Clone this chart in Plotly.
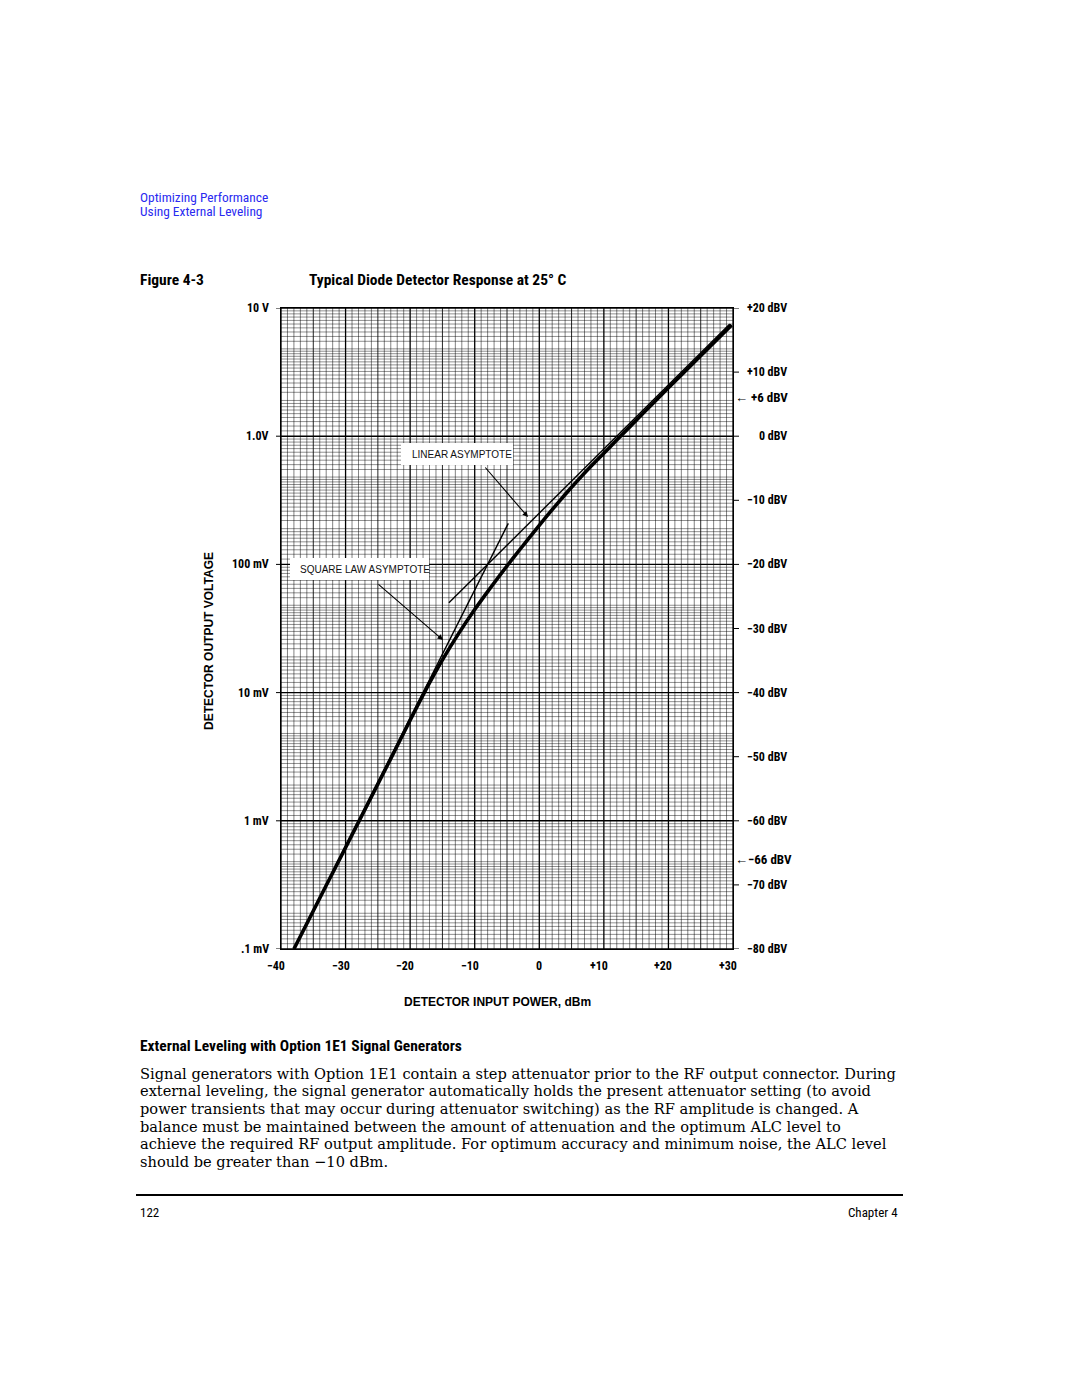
import numpy as np
import plotly.graph_objects as go

W, H = 1080, 1397
L, R, T, B = 281, 733, 308, 949   # plot area in page pixels

# ---------------- data ----------------
# main detector response curve: input power (dBm) -> output (dBV)
main_p   = [-38, -33, -28, -23, -20, -17.7, -15, -12.5, -10, -8, -6, -4, -2, 0, 2, 4, 6, 8, 10, 12, 16, 20, 25, 29.8]
main_dbv = [-80, -70.1, -60.2, -50.3, -44.3, -39.8, -34.9, -30.8, -27.05, -24.25, -21.55, -18.95, -16.4, -13.9,
            -11.45, -9.1, -6.85, -4.7, -2.65, -0.6, 3.5, 7.55, 12.55, 17.35]
# square-law asymptote
sq_p   = [-38, -4.8]
sq_dbv = [-80, -13.6]
# linear asymptote
lin_p   = [-14, 29.5]
lin_dbv = [-26, 17.5]

# axis labels
x_ticks  = [-40, -30, -20, -10, 0, 10, 20, 30]
x_labels = ["\u221240", "\u221230", "\u221220", "\u221210", "0", "+10", "+20", "+30"]
v_ticks  = [20, 0, -20, -40, -60, -80]
v_labels = ["10 V", "1.0V", "100 mV", "10 mV", "1 mV", ".1 mV"]
dbv_ticks  = [20, 10, 0, -10, -20, -30, -40, -50, -60, -70, -80]
dbv_labels = ["+20 dBV", "+10 dBV", "0 dBV", "\u221210 dBV", "\u221220 dBV", "\u221230 dBV",
              "\u221240 dBV", "\u221250 dBV", "\u221260 dBV", "\u221270 dBV", "\u221280 dBV"]
marker_dbv    = [6, -66]
marker_labels = ["\u2190 +6 dBV", "\u2190\u221266 dBV"]

# ---------------- helpers ----------------
def px(xp):  # page x pixel -> paper
    return (xp - L) / (R - L)
def py(yp):  # page y pixel -> paper
    return (B - yp) / (B - T)

COND = "Liberation Sans Narrow, Arial Narrow, Roboto Condensed, Liberation Sans, sans-serif"
SANS = "Liberation Sans, Arial, sans-serif"
SERIF = "DejaVu Serif, Liberation Serif, serif"

fig = go.Figure()

# ---------------- graph-paper grid ----------------
def vlines(vals, color, width):
    xs, ys = [], []
    for v in vals:
        xs += [v, v, None]; ys += [-80, 20, None]
    fig.add_trace(go.Scatter(x=xs, y=ys, mode="lines", line=dict(color=color, width=width),
                             hoverinfo="skip", showlegend=False))
def hlines(vals, color, width):
    xs, ys = [], []
    for v in vals:
        xs += [-40, 30, None]; ys += [v, v, None]
    fig.add_trace(go.Scatter(x=xs, y=ys, mode="lines", line=dict(color=color, width=width),
                             hoverinfo="skip", showlegend=False))

minor_v = [p for p in range(-40, 31) if p % 5 != 0]
mid_v = [p for p in range(-40, 31) if p % 5 == 0 and p % 10 != 0]
major_v = [p for p in range(-40, 31, 10)]
subs = list(np.arange(1.1, 2.0, 0.1)) + list(np.arange(2.2, 5.0, 0.2)) + list(np.arange(5.5, 10.0, 0.5))
minor_h, mid_h, major_h = [], [], []
for d in range(-4, 1):
    for s in subs:
        val = 20 * np.log10(s * 10 ** d)
        if abs(s - 2) < 1e-6 or abs(s - 5) < 1e-6:
            mid_h.append(val)
        else:
            minor_h.append(val)
    major_h.append(20 * d)
major_h.append(20)

vlines(minor_v, "rgba(0,0,0,0.62)", 0.8)
hlines(minor_h, "rgba(0,0,0,0.55)", 0.8)
vlines(mid_v, "rgba(0,0,0,0.85)", 1.0)
hlines(mid_h, "rgba(0,0,0,0.8)", 1.0)
vlines(major_v, "#000", 1.3)
hlines(major_h, "#000", 1.4)

# ---------------- curves ----------------
fig.add_trace(go.Scatter(x=sq_p, y=sq_dbv, mode="lines", line=dict(color="#000", width=1.4),
                         hoverinfo="skip", showlegend=False))
fig.add_trace(go.Scatter(x=lin_p, y=lin_dbv, mode="lines", line=dict(color="#000", width=1.4),
                         hoverinfo="skip", showlegend=False))
fig.add_trace(go.Scatter(x=main_p, y=main_dbv, mode="lines",
                         line=dict(color="#000", width=3.6, shape="spline", smoothing=0.6),
                         hoverinfo="skip", showlegend=False))

shapes = []
ann = []

# label boxes
shapes.append(dict(type="rect", xref="paper", yref="paper", x0=px(401), x1=px(513), y0=py(465), y1=py(443),
                   fillcolor="white", line=dict(width=0), layer="above"))
shapes.append(dict(type="rect", xref="paper", yref="paper", x0=px(290), x1=px(429), y0=py(580), y1=py(558),
                   fillcolor="white", line=dict(width=0), layer="above"))
ann.append(dict(xref="paper", yref="paper", x=px(462), y=py(454), text="LINEAR ASYMPTOTE", showarrow=False,
                font=dict(family=SANS, size=10, color="#111"), xanchor="center", yanchor="middle"))
ann.append(dict(xref="paper", yref="paper", x=px(365), y=py(569), text="SQUARE LAW ASYMPTOTE", showarrow=False,
                font=dict(family=SANS, size=10, color="#111"), xanchor="center", yanchor="middle"))
# arrows
ann.append(dict(xref="paper", yref="paper", x=px(528), y=py(517), text="", showarrow=True,
                ax=-44, ay=-51, arrowhead=2, arrowsize=1, arrowwidth=1.1, arrowcolor="#000"))
ann.append(dict(xref="paper", yref="paper", x=px(443), y=py(640), text="", showarrow=True,
                ax=-66, ay=-57, arrowhead=2, arrowsize=1, arrowwidth=1.1, arrowcolor="#000"))

# left voltage labels
for v, lab in zip(v_ticks, v_labels):
    ann.append(dict(xref="paper", yref="y", x=px(271), y=v, text="<b>%s</b>" % lab, showarrow=False,
                    xanchor="right", yanchor="middle", font=dict(family=COND, size=12, color="#000")))
    shapes.append(dict(type="line", xref="paper", yref="y", x0=px(276), x1=px(281), y0=v, y1=v,
                       line=dict(color="#000", width=1)))
# right dBV labels
for v, lab in zip(dbv_ticks, dbv_labels):
    ann.append(dict(xref="paper", yref="y", x=px(789), y=v, text="<b>%s</b>" % lab, showarrow=False,
                    xanchor="right", yanchor="middle", font=dict(family=COND, size=12, color="#000")))
    shapes.append(dict(type="line", xref="paper", yref="y", x0=px(734), x1=px(739), y0=v, y1=v,
                       line=dict(color="#000", width=1)))
for v, lab in zip(marker_dbv, marker_labels):
    ann.append(dict(xref="paper", yref="y", x=px(733), y=v, text="<b>%s</b>" % lab, showarrow=False,
                    xanchor="left", yanchor="middle", font=dict(family=COND, size=13, color="#000")))
# x tick labels
for v, lab in zip(x_ticks, x_labels):
    shift = 0 if lab == "0" else -5
    ann.append(dict(xref="x", yref="paper", x=v, y=py(966), text="<b>%s</b>" % lab, showarrow=False,
                    xanchor="center", yanchor="middle", xshift=shift,
                    font=dict(family=COND, size=12, color="#000")))
# axis titles
ann.append(dict(xref="paper", yref="paper", x=px(497), y=py(1002), text="<b>DETECTOR INPUT POWER, dBm</b>",
                showarrow=False, xanchor="center", yanchor="middle", font=dict(family=SANS, size=12, color="#000")))
ann.append(dict(xref="paper", yref="paper", x=px(209), y=py(641), text="<b>DETECTOR OUTPUT VOLTAGE</b>",
                showarrow=False, xanchor="center", yanchor="middle", textangle=-90,
                font=dict(family=SANS, size=12, color="#000")))

# page header / caption / body
def page_text(x, y, text, size, family, color="#000", xanchor="left"):
    ann.append(dict(xref="paper", yref="paper", x=px(x), y=py(y), text=text, showarrow=False,
                    xanchor=xanchor, yanchor="middle", font=dict(family=family, size=size, color=color)))

page_text(138, 197, "Optimizing Performance", 13.4, COND, "#2a2af0")
page_text(138, 211, "Using External Leveling", 13.4, COND, "#2a2af0")
page_text(138, 280, "<b>Figure 4-3</b>", 15.5, COND)
page_text(307, 280, "<b>Typical Diode Detector Response at 25\u00b0 C</b>", 15.5, COND)
page_text(138, 1046, "<b>External Leveling with Option 1E1 Signal Generators</b>", 15.5, COND)
body = [
    (1073, "Signal generators with Option 1E1 contain a step attenuator prior to the RF output connector. During"),
    (1090, "external leveling, the signal generator automatically holds the present attenuator setting (to avoid"),
    (1108, "power transients that may occur during attenuator switching) as the RF amplitude is changed. A"),
    (1126, "balance must be maintained between the amount of attenuation and the optimum ALC level to"),
    (1143, "achieve the required RF output amplitude. For optimum accuracy and minimum noise, the ALC level"),
    (1161, "should be greater than \u221210 dBm."),
]
for y, t in body:
    page_text(138, y, t, 14.6, SERIF)
page_text(138, 1212, "122", 13, COND)
page_text(900, 1212, "Chapter 4", 13, COND, xanchor="right")
shapes.append(dict(type="line", xref="paper", yref="paper", x0=px(136), x1=px(903), y0=py(1195), y1=py(1195),
                   line=dict(color="#000", width=2)))

fig.update_layout(
    width=W, height=H,
    margin=dict(l=L, r=W - R, t=T, b=H - B, pad=0),
    paper_bgcolor="white", plot_bgcolor="white",
    xaxis=dict(range=[-40, 30], showgrid=False, zeroline=False, showticklabels=False, ticks="",
               showline=True, mirror=True, linecolor="#000", linewidth=1.2, fixedrange=True),
    yaxis=dict(range=[-80, 20], showgrid=False, zeroline=False, showticklabels=False, ticks="",
               showline=True, mirror=True, linecolor="#000", linewidth=1.2, fixedrange=True),
    shapes=shapes, annotations=ann, showlegend=False,
)
fig.write_html("out.html", config={"displayModeBar": False})
